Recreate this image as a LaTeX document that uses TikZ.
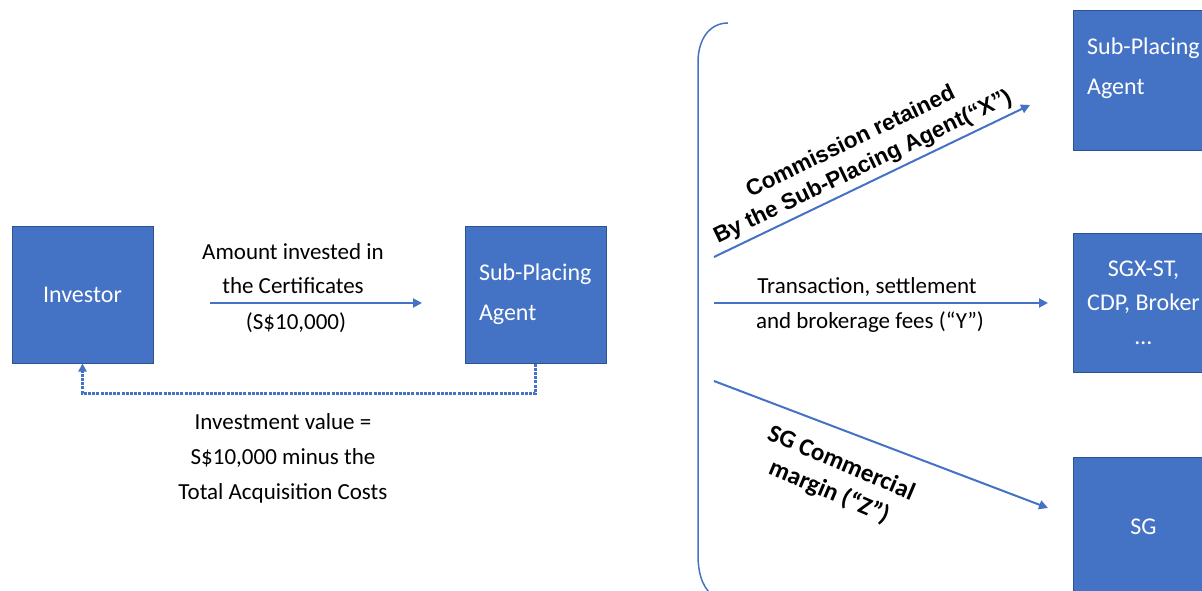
\documentclass[tikz,border=0pt]{standalone}
\usepackage{fontspec}
\setmainfont{Carlito}
\newfontfamily\arialfont{Liberation Sans}
\usetikzlibrary{arrows.meta}
\definecolor{boxblue}{HTML}{4472C4}
\definecolor{boxedge}{HTML}{2F528F}
\begin{document}
\begin{tikzpicture}[x=1pt,y=-1pt,
  box/.style={draw=boxedge, line width=1pt, fill=boxblue, minimum width=141pt, minimum height=137pt,
    inner sep=0pt, text=white, font=\fontsize{24}{40}\selectfont, align=center},
  flow/.style={draw=boxblue, line width=2pt, -{Triangle[length=9pt,width=9pt]}},
  lbl/.style={font=\fontsize{23}{34}\selectfont, align=center, text=black, inner sep=0pt},
  xlbl/.style={font=\arialfont\bfseries\fontsize{22.5}{28}\selectfont, align=center, text=black, inner sep=0pt},
  zlbl/.style={font=\bfseries\fontsize{25}{31}\selectfont, align=center, text=black, inner sep=0pt},
  ]
\useasboundingbox (0,0) rectangle (1202,591);
\clip (0,0) rectangle (1202,591);
% boxes
\node[box] (inv) at (82.5,294.5) {Investor};
\node[box, align=left, text width=113pt] (spa) at (535.5,294.5) {Sub-Placing\\Agent};
\node[box, minimum height=140pt] (spa2) at (1143.5,81) {};
\node[font=\fontsize{24}{40}\selectfont, text=white, anchor=west, align=left, inner sep=0pt] (spa2t) at (1087,68) {Sub-Placing\\Agent};
\node[box, minimum height=139pt, font=\fontsize{24}{34}\selectfont] (sgx) at (1143.5,302.5) {SGX-ST,\\CDP, Broker\\\ldots};
\node[box, minimum height=140pt] (sg) at (1143.5,527) {SG};
% left flow
\coordinate (a1s) at (210,303);
\coordinate (a1e) at (422,303);
\draw[flow] (a1s) -- (a1e);
\node[lbl] (amt) at (293,268.5) {Amount invested in\\the Certificates};
\node[lbl] (amtv) at (296,323) {(S\$10,000)};
\draw[boxblue, line width=2.2pt, dash pattern=on 3pt off 1.2pt, -{Triangle[length=8pt,width=8pt]}]
  (spa.south) -- ++(0,30) -| (inv.south);
\node[lbl, font=\fontsize{23}{35}\selectfont] (inval) at (283,458) {Investment value =\\S\$10,000 minus the\\Total Acquisition Costs};
% bracket
\draw[boxblue, line width=1.5pt] (728,23) .. controls (709,23) and (698,40) .. (698,62)
  -- (698,555) .. controls (698,578) and (705,591) .. (716,598);
% right flows
\coordinate (xs) at (714,257);
\coordinate (xe) at (1030,105);
\draw[flow] (xs) -- (xe);
\node[xlbl, rotate=25.7] (xl) at (857,155) {Commission retained\\By the Sub-Placing Agent(“X”)};
\coordinate (ys) at (714,303);
\coordinate (ye) at (1048,303);
\draw[flow] (ys) -- (ye);
\node[lbl] (yl1) at (867,287) {Transaction, settlement};
\node[lbl] (yl2) at (870,322) {and brokerage fees (“Y”)};
\coordinate (zs) at (714,381);
\coordinate (ze) at (1048,508);
\draw[flow] (zs) -- (ze);
\node[zlbl, rotate=-23] (zl) at (835,478) {SG Commercial\\margin (“Z”)};
\end{tikzpicture}
\end{document}
